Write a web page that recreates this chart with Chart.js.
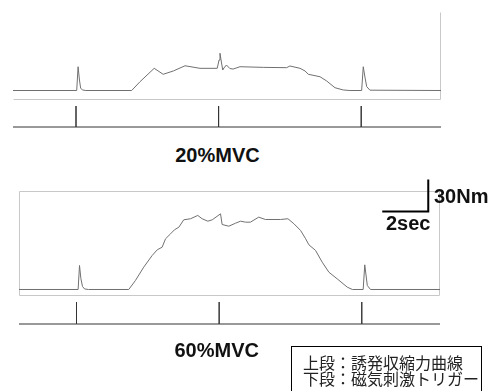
<!DOCTYPE html>
<html>
<head>
<meta charset="utf-8">
<script src="https://cdn.jsdelivr.net/npm/chart.js@4/dist/chart.umd.min.js"></script>
<style>
body{margin:0;width:496px;height:391px;overflow:hidden;background:#fff;position:relative;}
.box{position:absolute;}
.lbl{position:absolute;font-family:"Liberation Sans",Arial,sans-serif;font-weight:bold;font-size:20px;line-height:20px;color:#111;white-space:nowrap;}
.note{position:absolute;left:291px;top:345.5px;width:178px;height:60px;border:1px solid #000;padding:7px 0 0 11px;box-sizing:border-box;width:191px;
 font-family:"Noto Sans CJK JP",sans-serif;font-size:16px;line-height:16px;color:#222;}
</style>
</head>
<body>
<div class="box" style="left:8px;top:7px;width:438px;height:98px"><canvas id="topTrace"></canvas></div>
<div class="box" style="left:8px;top:100.5px;width:438px;height:31px"><canvas id="topTrig"></canvas></div>
<div class="box" style="left:13.5px;top:172.5px;width:431px;height:128px"><canvas id="midTrace"></canvas></div>
<div class="box" style="left:13.5px;top:296.5px;width:431px;height:32px"><canvas id="midTrig"></canvas></div>

<div class="lbl" style="left:117.5px;top:145px;width:200px;text-align:center">20%MVC</div>
<div class="lbl" style="left:116.7px;top:340px;width:200px;text-align:center">60%MVC</div>
<div class="lbl" style="left:434px;top:186px">30Nm</div>
<div class="lbl" style="left:386px;top:213px">2sec</div>
<div class="note">上段：誘発収縮力曲線<br>下段：磁気刺激トリガー</div>

<script>
// 時間 [sec] と トルク [Nm]
var triggerTimes = [3.0, 9.2, 15.4];

var topTime   = [0.26, 3.03, 3.09, 3.15, 3.20, 3.28, 3.43, 5.42, 5.78, 6.40, 6.79, 7.23, 7.74, 8.39, 9.14, 9.22, 9.26, 9.32, 9.38, 9.43, 9.54, 9.69, 9.83, 10.13, 11.14, 12.16, 12.30, 12.74, 12.96, 13.10, 13.61, 13.90, 14.26, 14.62, 14.91, 15.42, 15.49, 15.57, 15.64, 15.78, 18.87];
var topTorque = [0, 0, 22.3, 9.8, 2.3, 0.5, 0, 0, 8.2, 20.8, 15.2, 18.3, 23.2, 20.8, 20.8, 28.6, 34.9, 26.7, 19.2, 21.1, 23.9, 20.6, 20.1, 22.3, 21.7, 21.4, 23.0, 20.8, 18.3, 15.2, 12.9, 8.9, 2.6, 0.5, 0, 0, 22.3, 11.7, 3.6, 0.3, 0];

var midTime   = [0.50, 3.07, 3.13, 3.19, 3.26, 3.35, 3.52, 5.27, 5.56, 5.92, 6.29, 6.51, 6.72, 6.87, 7.09, 7.26, 7.45, 7.66, 7.96, 8.27, 8.46, 8.71, 8.90, 9.26, 9.33, 9.62, 9.91, 10.13, 10.35, 10.56, 10.92, 11.21, 11.87, 12.19, 12.45, 12.74, 12.96, 13.10, 13.39, 13.68, 13.97, 14.33, 14.77, 14.99, 15.46, 15.53, 15.64, 15.78, 18.80];
var midTorque = [0, 0, 22.5, 10.3, 2.8, 0.5, 0, 0, 8.4, 20.9, 31.9, 37.2, 39.6, 47.5, 52.2, 56.0, 58.4, 65.3, 66.3, 69.4, 66.3, 64.0, 65.3, 70.9, 60.9, 59.3, 62.1, 64.0, 63.1, 63.1, 67.8, 65.6, 65.6, 66.3, 61.6, 55.3, 47.5, 41.9, 36.6, 25.6, 16.2, 10.0, 2.2, 0, 0, 23.1, 3.7, 0, 0];

function toPoints(xs, ys){
	var pts = [];
	for(var i=0;i<xs.length;i++){ pts.push({x:xs[i], y:ys[i]}); }
	return pts;
}
function trigPoints(xMin, xMax){
	var pts = [{x:xMin,y:0}];
	triggerTimes.forEach(function(t){
		pts.push({x:t,y:0},{x:t,y:1},{x:t,y:0});
	});
	pts.push({x:xMax,y:0});
	return pts;
}

// 枠線
var framePlugin = {
	id:'frame',
	beforeDatasetsDraw:function(chart, args, opts){
		if(!opts.sides) return;
		var a = chart.chartArea, ctx = chart.ctx;
		var l = Math.round(a.left)+0.5, r = Math.round(a.right)-0.5, t = Math.round(a.top)+0.5, b = Math.round(a.bottom)-0.5;
		ctx.save();
		ctx.strokeStyle = '#c8c8c8';
		ctx.lineWidth = 1;
		ctx.beginPath();
		if(opts.sides.indexOf('top')>=0){ ctx.moveTo(l,t); ctx.lineTo(r,t); }
		if(opts.sides.indexOf('bottom')>=0){ ctx.moveTo(l,b); ctx.lineTo(r,b); }
		if(opts.sides.indexOf('left')>=0){ ctx.moveTo(l,t); ctx.lineTo(l,b); }
		if(opts.sides.indexOf('right')>=0){ ctx.moveTo(r,t); ctx.lineTo(r,b); }
		ctx.stroke();
		ctx.restore();
	}
};

// スケールバー (2sec / 30Nm)
var scaleBarPlugin = {
	id:'scaleBar',
	afterDatasetsDraw:function(chart, args, opts){
		if(!opts.sec) return;
		var xs = chart.scales.x, ys = chart.scales.y, ctx = chart.ctx;
		var x1 = xs.getPixelForValue(opts.atT), x0 = xs.getPixelForValue(opts.atT - opts.sec);
		var y0 = ys.getPixelForValue(opts.atNm), y1 = ys.getPixelForValue(opts.atNm + opts.nm);
		ctx.save();
		ctx.strokeStyle = '#000';
		ctx.lineWidth = 2;
		ctx.beginPath();
		ctx.moveTo(x0, y0); ctx.lineTo(x1, y0); ctx.lineTo(x1, y1);
		ctx.stroke();
		ctx.restore();
	}
};

function makeChart(id, points, color, xMin, xMax, yMin, yMax, padding, plugins){
	return new Chart(document.getElementById(id), {
		type:'line',
		data:{ datasets:[{ data:points, borderColor:color, borderWidth:1, pointRadius:0, tension:0, fill:false, clip:false }] },
		options:{
			responsive:true,
			maintainAspectRatio:false,
			animation:false,
			events:[],
			layout:{ padding:padding },
			scales:{
				x:{ type:'linear', min:xMin, max:xMax, display:false },
				y:{ type:'linear', min:yMin, max:yMax, display:false }
			},
			plugins:Object.assign({ legend:{display:false}, tooltip:{enabled:false} }, plugins)
		},
		plugins:[framePlugin, scaleBarPlugin]
	});
}

makeChart('topTrace', toPoints(topTime, topTorque), '#707070', 0.26, 18.87, -8.9, 73.6, 5,
	{ frame:{ sides:['bottom','right'] } });
makeChart('topTrig', trigPoints(0.26, 18.87), '#333', 0.26, 18.87, 0, 1, 5, {});
makeChart('midTrace', toPoints(midTime, midTorque), '#707070', 0.50, 18.80, -6.1, 92.3,
	{ left:5, right:5, top:18, bottom:5 },
	{ frame:{ sides:['top','bottom','left','right'] }, scaleBar:{ sec:2, nm:30, atT:18.29, atNm:73.1 } });
makeChart('midTrig', trigPoints(0.50, 18.80), '#333', 0.50, 18.80, 0, 1, 5, {});
</script>
</body>
</html>
